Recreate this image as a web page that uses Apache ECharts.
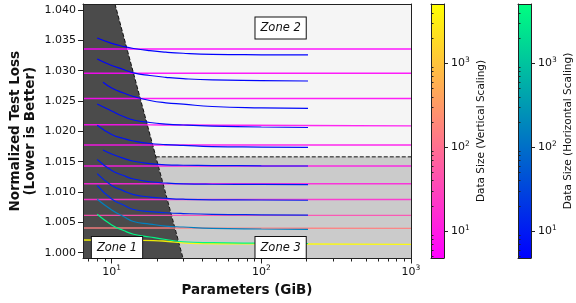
<!DOCTYPE html>
<html>
<head>
<meta charset="utf-8">
<script src="https://cdn.jsdelivr.net/npm/echarts@6/dist/echarts.min.js"></script>
<style>
  html, body { margin: 0; padding: 0; background: #fff; }
  #chart { width: 576px; height: 303px; }
</style>
</head>
<body>
<div id="chart"></div>
<script>
// axis ranges and ticks
var paramRange = [6.43, 1000];
var lossRange = [0.99905, 1.04099];
var sizeRange = [4.8, 5100];
var paramTicks = [10, 100, 1000];
var paramMinorTicks = [7, 8, 9, 20, 30, 40, 50, 60, 70, 80, 90, 200, 300, 400, 500, 600, 700, 800, 900];
var lossTicks = [1.000, 1.005, 1.010, 1.015, 1.020, 1.025, 1.030, 1.035, 1.040];
var sizeTicks = [10, 100, 1000];
var sizeMinorTicks = [5, 6, 7, 8, 9, 20, 30, 40, 50, 60, 70, 80, 90, 200, 300, 400, 500, 600, 700, 800, 900, 2000, 3000, 4000, 5000];

// data sizes (one per run), used for the colours
var vertDataSizes = [4.8, 5.3, 6, 7, 8, 10, 13, 18, 40, 160, 5000];
var horizDataSizes = [4.8, 5.3, 6, 7, 8, 9, 10, 12, 16, 160, 4000];

// vertical scaling: loss vs parameters (nearly flat lines)
var vertParams = [6.43, 15, 22, 33, 84, 1000];
var vertLoss = [
    [1.03357, 1.03357, 1.03357, 1.03357, 1.03357, 1.03357],
    [1.02959, 1.02959, 1.02959, 1.02959, 1.02959, 1.02959],
    [1.02542, 1.02542, 1.02542, 1.02542, 1.02542, 1.02542],
    [1.02110, 1.02108, 1.02106, 1.02104, 1.02100, 1.02090],
    [1.01775, 1.01775, 1.01775, 1.01775, 1.01775, 1.01775],
    [1.01429, 1.01429, 1.01429, 1.01429, 1.01429, 1.01429],
    [1.01136, 1.01136, 1.01136, 1.01136, 1.01136, 1.01136],
    [1.00877, 1.00877, 1.00877, 1.00877, 1.00877, 1.00877],
    [1.00616, 1.00616, 1.00616, 1.00616, 1.00616, 1.00616],
    [1.00407, 1.00407, 1.00407, 1.00407, 1.00405, 1.00402],
    [1.00209, 1.00204, 1.00193, 1.00155, 1.00147, 1.00138]
];

// horizontal scaling: loss curves vs parameters
var horizParams = [8, 10, 12, 14, 18, 23, 30, 47, 100, 205];
var horizStart = [8, 8, 8.75, 8, 8, 8.75, 8, 8, 8, 8, 8];
var horizLoss = [
    [1.03539, 1.03451, 1.03399, 1.03366, 1.03330, 1.03305, 1.03287, 1.03270, 1.03262, 1.03259],
    [1.03193, 1.03086, 1.03020, 1.02965, 1.02921, 1.02891, 1.02868, 1.02847, 1.02837, 1.02830],
    [1.02809, 1.02715, 1.02632, 1.02575, 1.02509, 1.02471, 1.02448, 1.02410, 1.02388, 1.02380],
    [1.02451, 1.02336, 1.02245, 1.02187, 1.02146, 1.02121, 1.02105, 1.02088, 1.02072, 1.02064],
    [1.02100, 1.01948, 1.01882, 1.01841, 1.01800, 1.01783, 1.01770, 1.01750, 1.01742, 1.01737],
    [1.01693, 1.01627, 1.01556, 1.01508, 1.01470, 1.01449, 1.01442, 1.01437, 1.01432, 1.01429],
    [1.01536, 1.01355, 1.01272, 1.01215, 1.01170, 1.01149, 1.01136, 1.01129, 1.01126, 1.01124],
    [1.01305, 1.01108, 1.01020, 1.00959, 1.00918, 1.00897, 1.00882, 1.00872, 1.00869, 1.00865],
    [1.01108, 1.00885, 1.00786, 1.00712, 1.00679, 1.00659, 1.00646, 1.00633, 1.00625, 1.00621],
    [1.00880, 1.00704, 1.00597, 1.00514, 1.00473, 1.00440, 1.00424, 1.00402, 1.00391, 1.00386],
    [1.00633, 1.00457, 1.00366, 1.00305, 1.00259, 1.00218, 1.00181, 1.00165, 1.00157, 1.00152]
];

// zones
var zone1Poly = [[6.43, 1.04099], [10.52, 1.04099], [30, 0.99905], [6.43, 0.99905]];
var zone3Poly = [[19.7, 1.0158], [1000, 1.0158], [1000, 0.99905], [30, 0.99905]];
var zoneEdge = [[10.52, 1.04099], [30, 0.99905]];
var zoneSplit = [[19.7, 1.0158], [1000, 1.0158]];
var zoneLabels = [[10.85, 1.00086, 'Zone 1'], [134.5, 1.03704, 'Zone 2'], [134.5, 1.00086, 'Zone 3']];

var FONT = 'DejaVu Sans';
var lg = Math.log10;

function frac(size) {
    return Math.max(0, Math.min(1, (lg(size) - lg(sizeRange[0])) / (lg(sizeRange[1]) - lg(sizeRange[0]))));
}
function spring(t) {
    return 'rgb(255,' + Math.round(255 * t) + ',' + Math.round(255 * (1 - t)) + ')';
}
function winter(t) {
    return 'rgb(0,' + Math.round(255 * t) + ',' + Math.round(255 * (1 - 0.5 * t)) + ')';
}
function powLabel(v) {
    return '{b|10}{s|' + Math.round(v) + '}';
}
var powRich = {
    b: { fontFamily: FONT, fontSize: 11, color: '#111' },
    s: { fontFamily: FONT, fontSize: 7.5, color: '#111', padding: [0, 0, 7, 0] }
};

var chart = echarts.init(document.getElementById('chart'));

var series = [];

// shaded zones
series.push({
    type: 'custom',
    xAxisIndex: 0, yAxisIndex: 0,
    data: [[0], [1]],
    clip: true,
    z: 1,
    renderItem: function (params, api) {
        var poly = params.dataIndex === 0 ? zone1Poly : zone3Poly;
        var pts = poly.map(function (p) { return api.coord([lg(p[0]), p[1]]); });
        return {
            type: 'polygon',
            shape: { points: pts },
            style: { fill: params.dataIndex === 0 ? '#4b4b4b' : '#cbcbcb' }
        };
    }
});

[zoneEdge, zoneSplit].forEach(function (seg) {
    series.push({
        type: 'line', xAxisIndex: 0, yAxisIndex: 0,
        data: seg.map(function (p) { return [lg(p[0]), p[1]]; }),
        symbol: 'none', z: 3,
        lineStyle: { color: '#111', width: 1, type: [4, 2] }
    });
});

vertLoss.forEach(function (row, i) {
    series.push({
        type: 'line', xAxisIndex: 0, yAxisIndex: 0,
        data: row.map(function (v, j) { return [lg(vertParams[j]), v]; }),
        symbol: 'none', smooth: 0.4, z: 4,
        lineStyle: { color: spring(frac(vertDataSizes[i])), width: 1.4, opacity: 0.9 }
    });
});

horizLoss.forEach(function (row, i) {
    series.push({
        type: 'line', xAxisIndex: 0, yAxisIndex: 0,
        data: row.map(function (v, j) { return [lg(j === 0 ? horizStart[i] : horizParams[j]), v]; }),
        symbol: 'none', smooth: 0.5, z: 5,
        lineStyle: { color: winter(frac(horizDataSizes[i])), width: 1.2 }
    });
});

// zone labels
series.push({
    type: 'scatter', xAxisIndex: 0, yAxisIndex: 0,
    data: zoneLabels.map(function (z) { return [lg(z[0]), z[1], z[2]]; }),
    symbol: 'rect', symbolSize: 1, clip: false, z: 20,
    itemStyle: { color: '#fff', opacity: 1 },
    emphasis: { disabled: true },
    label: {
        show: true, position: 'inside', opacity: 1,
        formatter: function (p) { return p.data[2]; },
        fontFamily: FONT, fontSize: 11.5, fontStyle: 'italic', color: '#111',
        backgroundColor: '#ffffff', borderColor: '#111', borderWidth: 1,
        padding: [5, 5, 4, 5]
    }
});

function frameAxis(gi, pos) {
    return {
        type: 'value', gridIndex: gi, position: pos, z: 10,
        min: pos === 'top' ? lg(paramRange[0]) : lossRange[0],
        max: pos === 'top' ? lg(paramRange[1]) : lossRange[1],
        axisLine: { show: true, onZero: false, lineStyle: { color: '#222', width: 1 } },
        axisTick: { show: false }, axisLabel: { show: false }, splitLine: { show: false }
    };
}

function barAxes(gi, name) {
    return [{
        type: 'value', gridIndex: gi, position: 'right', z: 10,
        min: lg(sizeRange[0]), max: lg(sizeRange[1]),
        axisLine: { show: true, onZero: false, lineStyle: { color: '#222' } },
        axisTick: { show: true, length: 4, customValues: sizeTicks.map(lg), lineStyle: { color: '#222' } },
        axisLabel: { customValues: sizeTicks.map(lg), margin: 7, formatter: function (v) { return powLabel(v); }, rich: powRich },
        splitLine: { show: false },
        name: name, nameLocation: 'middle', nameRotate: 90, nameGap: 32,
        nameTextStyle: { fontFamily: FONT, fontSize: 10.5, color: '#111' }
    }, {
        type: 'value', gridIndex: gi, position: 'right', z: 10,
        min: lg(sizeRange[0]), max: lg(sizeRange[1]),
        axisLine: { show: false },
        axisTick: { show: true, length: 2.5, customValues: sizeMinorTicks.map(lg), lineStyle: { color: '#222' } },
        axisLabel: { show: false }, splitLine: { show: false }
    }, {
        type: 'value', gridIndex: gi, position: 'left', z: 10,
        min: lg(sizeRange[0]), max: lg(sizeRange[1]),
        axisLine: { show: true, onZero: false, lineStyle: { color: '#222' } },
        axisTick: { show: false }, axisLabel: { show: false }, splitLine: { show: false }
    }];
}

function hiddenX(gi, pos) {
    return {
        type: 'value', gridIndex: gi, position: pos, min: 0, max: 1, z: 10,
        axisLine: { show: true, onZero: false, lineStyle: { color: '#222' } },
        axisTick: { show: false }, axisLabel: { show: false }, splitLine: { show: false }
    };
}

var option = {
    animation: false,
    backgroundColor: '#fff',
    grid: [
        { left: 83, top: 4, width: 328, height: 254.5, show: true, backgroundColor: '#f5f5f5', borderWidth: 0,
          containLabel: false, outerBoundsMode: 'none' },
        { left: 431, top: 4, width: 13, height: 254, show: true, borderWidth: 0,
          containLabel: false, outerBoundsMode: 'none',
          backgroundColor: { type: 'linear', x: 0, y: 0, x2: 0, y2: 1,
            colorStops: [{ offset: 0, color: spring(1) }, { offset: 1, color: spring(0) }] } },
        { left: 518, top: 4, width: 13, height: 254, show: true, borderWidth: 0,
          containLabel: false, outerBoundsMode: 'none',
          backgroundColor: { type: 'linear', x: 0, y: 0, x2: 0, y2: 1,
            colorStops: [{ offset: 0, color: winter(1) }, { offset: 1, color: winter(0) }] } }
    ],
    xAxis: [{
        type: 'value', gridIndex: 0, position: 'bottom', z: 10,
        min: lg(paramRange[0]), max: lg(paramRange[1]),
        axisLine: { show: true, onZero: false, lineStyle: { color: '#222', width: 1 } },
        axisTick: { show: true, length: 5, customValues: paramTicks.map(lg), lineStyle: { color: '#222' } },
        axisLabel: { customValues: paramTicks.map(lg), margin: 6, formatter: function (v) { return powLabel(v); }, rich: powRich },
        splitLine: { show: false },
        name: 'Parameters (GiB)', nameLocation: 'middle', nameGap: 25,
        nameTextStyle: { fontFamily: FONT, fontSize: 13.5, fontWeight: 'bold', color: '#111' }
    }, {
        type: 'value', gridIndex: 0, position: 'bottom', z: 10,
        min: lg(paramRange[0]), max: lg(paramRange[1]),
        axisLine: { show: false },
        axisTick: { show: true, length: 3, customValues: paramMinorTicks.map(lg), lineStyle: { color: '#222' } },
        axisLabel: { show: false }, splitLine: { show: false }
    },
    frameAxis(0, 'top'),
    hiddenX(1, 'bottom'), hiddenX(1, 'top'), hiddenX(2, 'bottom'), hiddenX(2, 'top')],
    yAxis: [{
        type: 'value', gridIndex: 0, position: 'left', z: 10,
        min: lossRange[0], max: lossRange[1],
        axisLine: { show: true, onZero: false, lineStyle: { color: '#222', width: 1 } },
        axisTick: { show: true, length: 5, customValues: lossTicks, lineStyle: { color: '#222' } },
        axisLabel: { customValues: lossTicks, margin: 7, formatter: function (v) { return v.toFixed(3); },
            fontFamily: FONT, fontSize: 11, color: '#111' },
        splitLine: { show: false },
        name: 'Normalized Test Loss\n(Lower is Better)', nameLocation: 'middle', nameRotate: 90, nameGap: 45,
        nameMoveOverlap: false,
        nameTextStyle: { fontFamily: FONT, fontSize: 13.5, fontWeight: 'bold', color: '#111', lineHeight: 15 }
    },
    frameAxis(0, 'right')]
        .concat(barAxes(1, 'Data Size (Vertical Scaling)'))
        .concat(barAxes(2, 'Data Size (Horizontal Scaling)')),
    series: series
};

chart.setOption(option);
</script>
</body>
</html>
